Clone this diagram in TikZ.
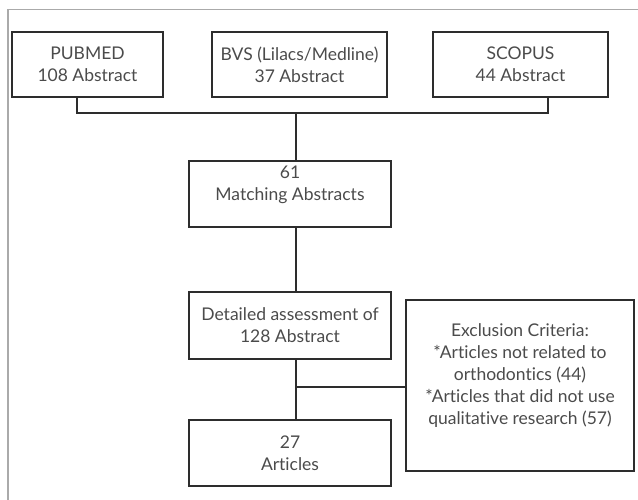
\documentclass[tikz,border=0pt]{standalone}
\usepackage{fontspec}
\setmainfont{Lato}[Ligatures={NoCommon}]
\definecolor{boxline}{RGB}{45, 45, 45}
\definecolor{boxtext}{RGB}{75, 75, 75}
\definecolor{framegray}{RGB}{170, 170, 170}
\usetikzlibrary{positioning, calc}

\begin{document}
\begin{tikzpicture}[x=1pt, y=-1pt,
    flowbox/.style={draw=boxline, line width=1.2pt, text=boxtext, align=center,
      inner sep=0pt, font=\fontsize{17.5}{22}\selectfont},
    link/.style={draw=boxline, line width=1.2pt}]
  \useasboundingbox (0,0) rectangle (638,500);
  \draw[framegray, line width=1.2pt] (8,500) -- (8,9.5) -- (638,9.5);

  % sources
  \node[flowbox, minimum width=151pt, minimum height=65pt] (pubmed) at (87.5,64.5) {PUBMED\\108 Abstract};
  \node[flowbox, minimum width=175pt, minimum height=65pt] (bvs) at (299.5,64.5) {BVS (Lilacs/Medline)\\37 Abstract};
  \node[flowbox, minimum width=175pt, minimum height=65pt] (scopus) at (520.5,64.5) {SCOPUS\\44 Abstract};

  % screening
  \node[flowbox, minimum width=202pt, minimum height=66pt] (match) at (290,194) {61\\Matching Abstracts\\\mbox{}};
  \node[flowbox, minimum width=202pt, minimum height=67pt] (detail) at (290,325.5) {Detailed assessment of\\128 Abstract};
  \node[flowbox, minimum width=202pt, minimum height=66pt] (articles) at (290,453) {27\\Articles};
  \node[flowbox, minimum width=228pt, minimum height=171pt] (excl) at (520,385.5)
    {Exclusion Criteria:\\*Articles not related to\\orthodontics (44)\\*Articles that did not use\\qualitative research (57)\\\mbox{}};

  \coordinate (bus) at (296,113);
  \coordinate (split) at (296,387);

  \draw[link] ([xshift=-10.5pt]pubmed.south) |- (bus) -| ([xshift=27.5pt]scopus.south);
  \draw[link] (bus) -- (bus |- match.north);
  \draw[link] (bus |- match.south) -- (bus |- detail.north);
  \draw[link] (split |- detail.south) -- (split |- articles.north);
  \draw[link] (split) -- (split -| excl.west);
\end{tikzpicture}
\end{document}
